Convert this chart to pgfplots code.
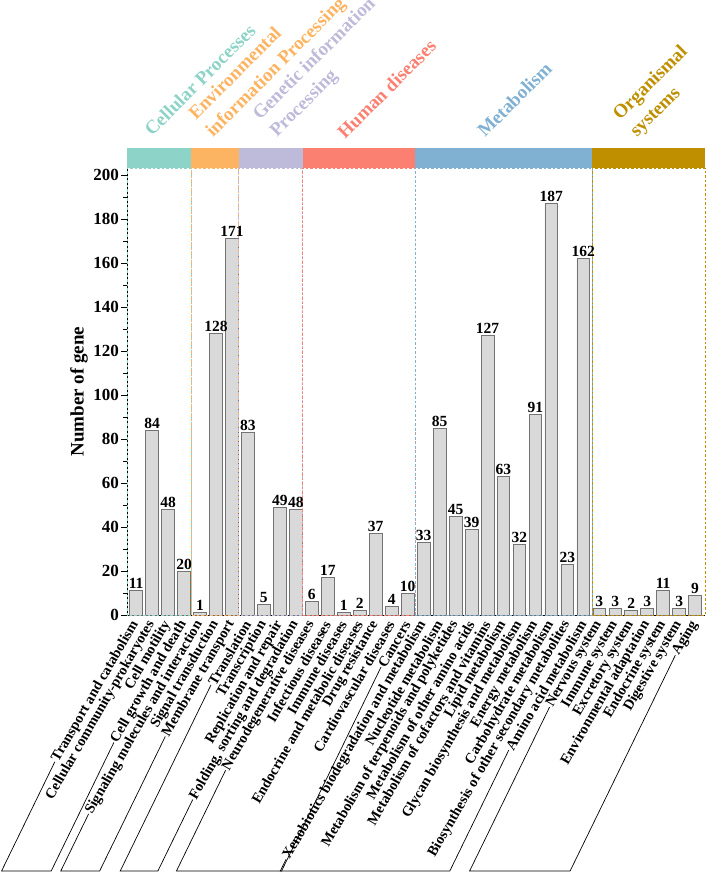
\documentclass[border=0pt]{standalone}
\usepackage{fontspec}
\setmainfont{Liberation Serif}
\usepackage{pgfplots}
\pgfplotsset{compat=1.18}
\usepackage{pgfplotstable}
\usetikzlibrary{calc}

\definecolor{cp}{HTML}{8DD3C7}
\definecolor{eip}{HTML}{FDB462}
\definecolor{gip}{HTML}{BEBADA}
\definecolor{hd}{HTML}{FB8072}
\definecolor{met}{HTML}{80B1D3}
\definecolor{org}{HTML}{BF8F00}

% KEGG level-2 pathways, in plotting order
\pgfplotstableread{
idx genes
0 11
1 84
2 48
3 20
4 1
5 128
6 171
7 83
8 5
9 49
10 48
11 6
12 17
13 1
14 2
15 37
16 4
17 10
18 33
19 85
20 45
21 39
22 127
23 63
24 32
25 91
26 187
27 23
28 162
29 3
30 3
31 2
32 3
33 11
34 3
35 9
}\kegg

\tikzset{
  grp/.style={line width=0.8pt, dash pattern=on 2.5pt off 2pt},
  hdr/.style={rotate=45, inner sep=0pt, align=left, font=\fontsize{19}{24}\selectfont\bfseries}
}

\begin{document}
\begin{tikzpicture}
\begin{axis}[
  scale only axis, width=578pt, height=447pt,
  xmin=-0.57, xmax=35.62, ymin=0, ymax=203.2,
  clip=false, ybar, bar width=0.8,
  axis x line*=bottom, axis y line*=left,
  axis line style={black, line width=0.8pt},
  ytick={0,20,...,200}, minor y tick num=1,
  tick align=outside, major tick length=6pt, minor tick length=3.5pt,
  every tick/.style={black, line width=0.8pt},
  xtick={0,...,35}, xtick style={draw=none}, major x tick style={draw=none},
  xticklabels={Transport and catabolism, Cellular community-prokaryotes, Cell motility, Cell growth and death,
    Signaling molecules and interaction, Signal transduction, Membrane transport,
    Translation, Transcription, Replication and repair, {Folding, sorting and degradation},
    Neurodegenerative diseases, Infectious diseases, Immune diseases, Endocrine and metabolic diseases,
    Drug resistance, Cardiovascular diseases, Cancers,
    Xenobiotics biodegradation and metabolism, Nucleotide metabolism, Metabolism of terpenoids and polyketides,
    Metabolism of other amino acids, Metabolism of cofactors and vitamins, Lipid metabolism,
    Glycan biosynthesis and metabolism, Energy metabolism, Carbohydrate metabolism,
    Biosynthesis of other secondary metabolites, Amino acid metabolism,
    Nervous system, Immune system, Excretory system, Environmental adaptation, Endocrine system,
    Digestive system, Aging},
  xticklabel style={rotate=60, anchor=east, inner sep=1pt, font=\fontsize{14.5}{14.5}\selectfont\bfseries, name=xl\ticknum},
  yticklabel style={font=\fontsize{17}{17}\selectfont\bfseries, inner sep=2pt},
  /pgf/number format/assume math mode=true,
  ylabel={Number of gene},
  ylabel style={font=\fontsize{19}{19}\selectfont\bfseries},
]
\addplot[fill=black!15, draw=black!55, line width=0.7pt,
  nodes near coords,
  every node near coord/.style={font=\fontsize{15.5}{15.5}\selectfont\bfseries, black, inner sep=1.5pt}]
  table[x=idx, y=genes] {\kegg};

% group boxes and colour bands
\draw[grp, cp]  (axis cs:-0.57,0) rectangle (axis cs:3.44,203.2);
\draw[grp, eip] (axis cs:3.44,0) rectangle (axis cs:6.42,203.2);
\draw[grp, gip] (axis cs:6.42,0) rectangle (axis cs:10.42,203.2);
\draw[grp, hd]  (axis cs:10.42,0) rectangle (axis cs:17.46,203.2);
\draw[grp, met] (axis cs:17.46,0) rectangle (axis cs:28.57,203.2);
\draw[grp, org] (axis cs:28.57,0) rectangle (axis cs:35.62,203.2);
\fill[cp]  (axis cs:-0.57,203.2) rectangle (axis cs:3.44,212.3);
\fill[eip] (axis cs:3.44,203.2) rectangle (axis cs:6.42,212.3);
\fill[gip] (axis cs:6.42,203.2) rectangle (axis cs:10.42,212.3);
\fill[hd]  (axis cs:10.42,203.2) rectangle (axis cs:17.46,212.3);
\fill[met] (axis cs:17.46,203.2) rectangle (axis cs:28.57,212.3);
\fill[org] (axis cs:28.57,203.2) rectangle (axis cs:35.62,212.3);
\end{axis}

% category headers
\node[hdr, text=cp,  anchor=base west]  at (25pt,478pt)  {Cellular Processes};
\node[hdr, text=eip, anchor=south west] at (89pt,474pt)  {Environmental\\information Processing};
\node[hdr, text=gip, anchor=south west] at (153pt,474pt) {Genetic information\\Processing};
\node[hdr, text=hd,  anchor=base west]  at (218pt,475pt) {Human diseases};
\node[hdr, text=met, anchor=base west]  at (358pt,477pt) {Metabolism};
\node[hdr, text=org, anchor=south west] at (513pt,474pt) {Organismal\\systems};

% brackets under the tick labels
\foreach \a/\b in {0/3,4/6,7/10,11/17,18/28,29/35}{
  \draw[black, line width=0.7pt] let \p1=(xl\a.west), \p2=(xl\b.west) in
    (\p1) -- ({\x1-(\y1+256pt)/tan(64)},-256pt) -- ({\x2-(\y2+256pt)/tan(64)},-256pt) -- (\p2);
}

\pgfresetboundingbox
\path[use as bounding box] (-127pt,-260pt) rectangle (581pt,615pt);
\end{tikzpicture}
\end{document}
